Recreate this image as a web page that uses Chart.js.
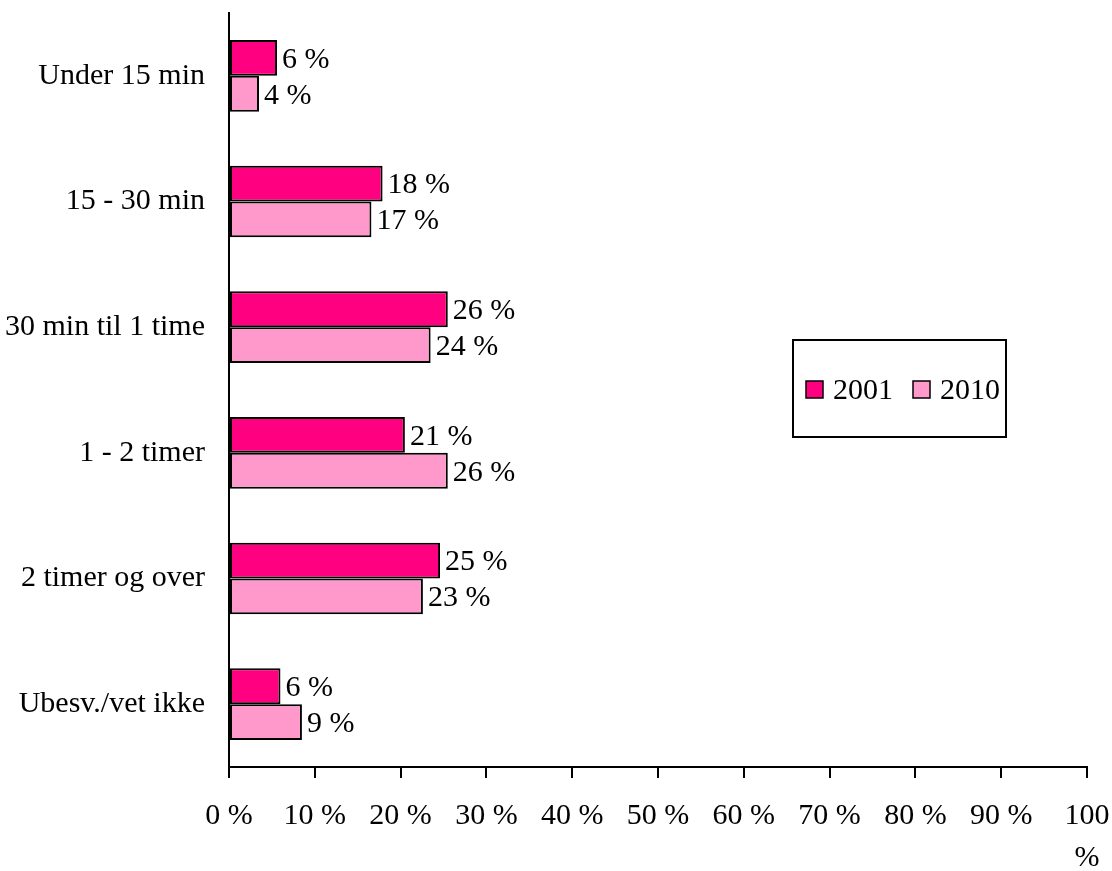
<!DOCTYPE html>
<html>
<head>
<meta charset="utf-8">
<script src="https://cdn.jsdelivr.net/npm/chart.js@4"></script>
<style>
  body { margin: 0; background: #fff; }
  #wrap { width: 1112px; height: 871px; }
</style>
</head>
<body>
<div id="wrap"><canvas id="timeChart" width="1112" height="871"></canvas></div>
<script>
let categories = ['Under 15 min', '15 - 30 min', '30 min til 1 time', '1 - 2 timer', '2 timer og over', 'Ubesv./vet ikke'];
let values2001 = [5.6, 17.9, 25.5, 20.5, 24.6, 6.0];
let values2010 = [3.5, 16.6, 23.5, 25.5, 22.6, 8.5];
let xTicks = [0, 10, 20, 30, 40, 50, 60, 70, 80, 90, 100];

let fontFamily = "'Liberation Serif', 'Times New Roman', serif";
Chart.defaults.font.family = fontFamily;
Chart.defaults.font.size = 30;
Chart.defaults.color = '#000';

// value labels at the end of each bar
let barLabels = {
    id: 'barLabels',
    afterDatasetsDraw(chart) {
        let ctx = chart.ctx;
        ctx.save();
        ctx.font = '30px ' + fontFamily;
        ctx.fillStyle = '#000';
        ctx.textAlign = 'left';
        ctx.textBaseline = 'middle';
        chart.data.datasets.forEach((ds, i) => {
            chart.getDatasetMeta(i).data.forEach((bar, j) => {
                ctx.fillText(Math.round(ds.data[j]) + ' %', bar.x + 5, bar.y + 2);
            });
        });
        ctx.restore();
    }
};

// boxed legend sitting inside the plot
let boxLegend = {
    id: 'boxLegend',
    afterDraw(chart) {
        let ctx = chart.ctx;
        ctx.save();
        ctx.lineWidth = 2;
        ctx.strokeStyle = '#000';
        ctx.strokeRect(793, 340, 213, 97);
        ctx.font = '30px ' + fontFamily;
        ctx.textBaseline = 'middle';
        ctx.textAlign = 'left';
        let xs = [806, 913];
        chart.data.datasets.forEach((ds, i) => {
            ctx.fillStyle = ds.backgroundColor;
            ctx.fillRect(xs[i], 381, 17, 17);
            ctx.lineWidth = 1.5;
            ctx.strokeRect(xs[i], 381, 17, 17);
            ctx.fillStyle = '#000';
            ctx.fillText(ds.label, xs[i] + 27, 391);
        });
        ctx.restore();
    }
};

var timeChart = new Chart(document.getElementById('timeChart'), {
    type: 'bar',
    data: {
        labels: categories,
        datasets: [{
            label: '2001',
            data: values2001,
            backgroundColor: '#FF0080',
            borderColor: '#000',
            borderWidth: 2,
            borderSkipped: false
        }, {
            label: '2010',
            data: values2010,
            backgroundColor: '#FF99CC',
            borderColor: '#000',
            borderWidth: 2,
            borderSkipped: false
        }]
    },
    options: {
        indexAxis: 'y',
        responsive: false,
        animation: false,
        layout: { padding: { top: 13, right: 25, left: 0, bottom: 0 } },
        datasets: { bar: { categoryPercentage: 0.57, barPercentage: 1.0 } },
        plugins: {
            legend: { display: false },
            tooltip: { enabled: false }
        },
        scales: {
            x: {
                min: 0,
                max: 100,
                afterBuildTicks: (scale) => { scale.ticks = xTicks.map(v => ({ value: v })); },
                afterFit: (scale) => {
                    scale.height = 104;
                    scale.paddingLeft = 0;
                    scale.paddingRight = 0;
                },
                grid: { drawOnChartArea: false, drawTicks: true, tickLength: 11, color: '#000', lineWidth: 2 },
                border: { color: '#000', width: 2 },
                ticks: {
                    padding: 17,
                    maxRotation: 0,
                    autoSkip: false,
                    font: { lineHeight: 1.4 },
                    callback: (v) => v === 100 ? ['100', '%'] : v + ' %'
                }
            },
            y: {
                afterFit: (scale) => {
                    scale.width = 229;
                    scale.paddingTop = 0;
                    scale.paddingBottom = 0;
                },
                grid: { display: false, drawTicks: false },
                border: { color: '#000', width: 2 },
                ticks: { padding: 24, autoSkip: false }
            }
        }
    },
    plugins: [barLabels, boxLegend]
});
</script>
</body>
</html>
